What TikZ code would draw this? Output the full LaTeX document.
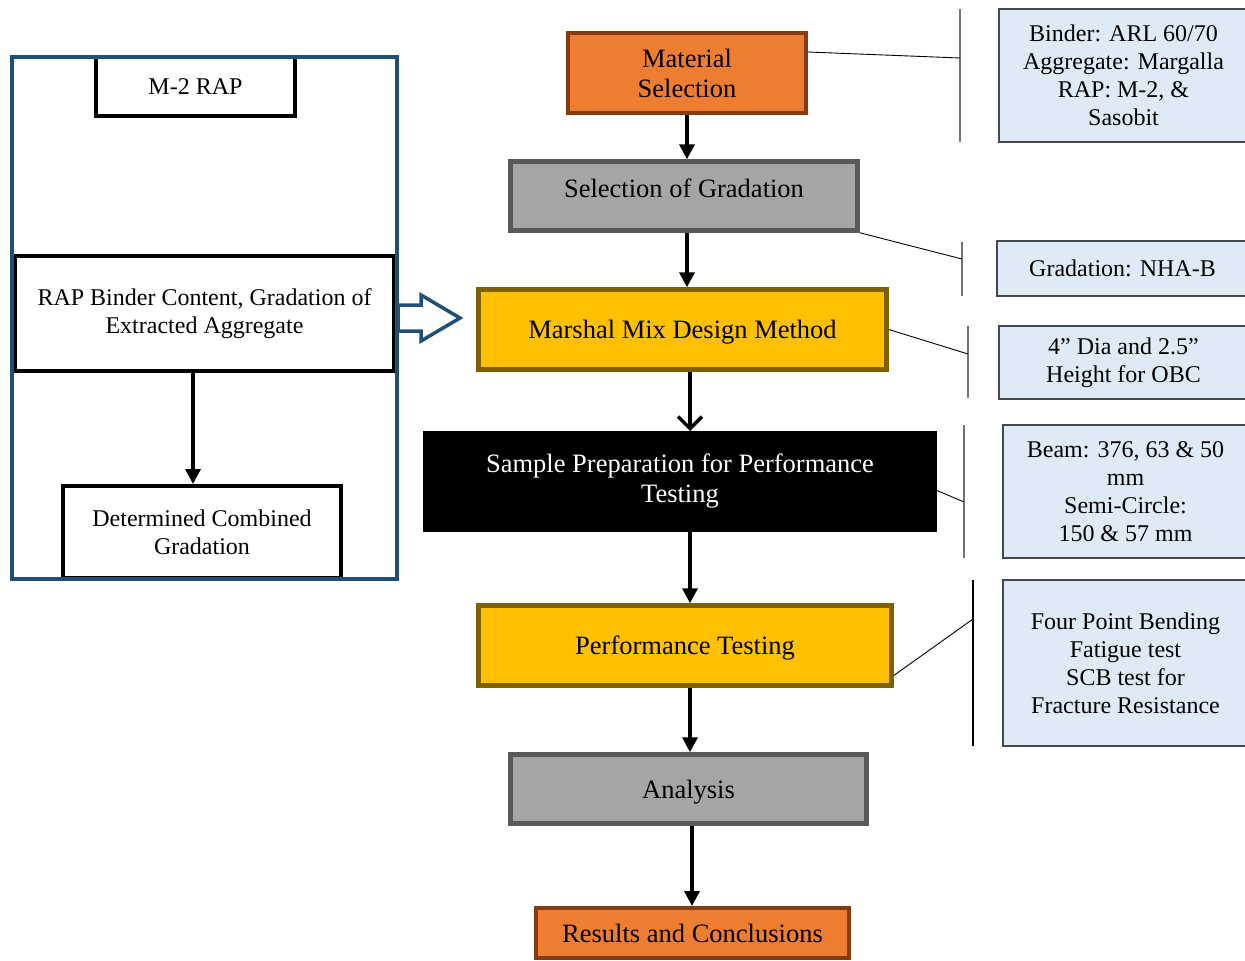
\documentclass[tikz,border=0pt]{standalone}
\usepackage{fontspec}
\setmainfont{Liberation Serif}
\usetikzlibrary{arrows.meta}
\definecolor{orangefill}{HTML}{ED7D31}
\definecolor{orangeline}{HTML}{843C0C}
\definecolor{grayfill}{HTML}{A5A5A5}
\definecolor{grayline}{HTML}{595959}
\definecolor{yellowfill}{HTML}{FFC000}
\definecolor{yellowline}{HTML}{7F6000}
\definecolor{infofill}{HTML}{DEEBF7}
\definecolor{infoline}{HTML}{44484C}
\definecolor{frameblue}{HTML}{1F4E79}
\tikzset{
	box/.style={rectangle, inner sep=0pt, align=center, line width=4pt, font=\fontsize{26.5}{30}\selectfont},
	orangebox/.style={box, fill=orangefill, draw=orangeline},
	graybox/.style={box, fill=grayfill, draw=grayline, line width=4.5pt},
	yellowbox/.style={box, fill=yellowfill, draw=yellowline, line width=4.5pt},
	blackbox/.style={box, fill=black, text=white, line width=0pt},
	oneline/.style={text depth=0pt},
	leftbox/.style={rectangle, inner sep=0pt, align=center, draw=black, line width=4pt, font=\fontsize{24}{28}\selectfont},
	infobox/.style={rectangle, inner sep=0pt, align=center, fill=infofill, draw=infoline, line width=1.3pt, font=\fontsize{24}{28}\selectfont},
	flow/.style={-{Triangle[length=15pt,width=15pt]}, line width=3.5pt},
	openflow/.style={-{Straight Barb[length=12pt,width=24pt]}, line width=3.5pt},
	blockarrow/.style={draw=frameblue, fill=white, line width=3.5pt, line join=miter},
	bracket/.style={draw=gray!90!black, line width=1.3pt},
	lead/.style={line width=0.9pt}
}

\begin{document}
\begin{tikzpicture}[x=1pt, y=-1pt]

	\useasboundingbox (0,0) rectangle (1245,961);

	% main flow
	\node[orangebox, minimum width=238pt, minimum height=80pt] (mat) at (687,73) {Material\\Selection};
	\node[graybox, minimum width=347pt, minimum height=69pt, text depth=16pt] (sel) at (684,196) {Selection of Gradation};
	\node[yellowbox, oneline, minimum width=408pt, minimum height=80pt] (mmd) at (682.5,329.5) {Marshal Mix Design Method};
	\node[blackbox, minimum width=514pt, minimum height=101pt] (smp) at (680,481.5) {Sample Preparation for Performance\\Testing};
	\node[yellowbox, oneline, minimum width=413pt, minimum height=80pt] (perf) at (685,645.5) {Performance Testing};
	\node[graybox, oneline, minimum width=356pt, minimum height=69pt] (ana) at (688.5,789) {Analysis};
	\node[orangebox, oneline, minimum width=313pt, minimum height=50pt] (res) at (692.5,933) {Results and Conclusions};

	\draw[flow] (mat.south) -- (mat.south |- sel.north);
	\draw[flow] (sel.south -| mat.south) -- (mmd.north -| mat.south);
	\draw[openflow] ([xshift=7.5pt]mmd.south) -- ([xshift=7.5pt]mmd.south |- smp.north);
	\draw[flow] ([xshift=10pt]smp.south) -- ([xshift=10pt]smp.south |- perf.north);
	\draw[flow] ([xshift=5pt]perf.south) -- ([xshift=5pt]perf.south |- ana.north);
	\draw[flow] ([xshift=3.5pt]ana.south) -- ([xshift=3.5pt]ana.south |- res.north);

	% RAP side
	\node[leftbox, oneline, minimum width=199pt, minimum height=59pt] (m2) at (195.5,86.5) {M-2 RAP};
	\node[leftbox, minimum width=379pt, minimum height=115pt] (rap) at (204.5,313.5) {RAP Binder Content, Gradation of\\Extracted Aggregate};
	\node[leftbox, minimum width=278pt, minimum height=92pt] (det) at (202,532) {Determined Combined\\Gradation};
	\draw[flow] ([xshift=-11.5pt]rap.south) -- ([xshift=-11.5pt]rap.south |- det.north);

	\node[draw=frameblue, line width=4pt, minimum width=385pt, minimum height=522pt] (frame) at (204,317.5) {};

	% feed into the mix design
	\coordinate (feed) at ([xshift=2pt, yshift=-4.5pt]rap.east);
	\draw[blockarrow] ([shift={(0,-13)}]feed) -- ++(23,0) -- ++(0,-10) -- ++(39,23) -- ++(-39,23) -- ++(0,-10) -- ++(-23,0) -- cycle;

	% inputs
	\node[infobox, minimum width=249pt, minimum height=133pt] (in1) at (1123.5,75.5) {Binder: ARL 60/70\\Aggregate: Margalla\\RAP: M-2, \&\\Sasobit};
	\node[infobox, minimum width=251pt, minimum height=55pt] (in2) at (1122.5,268.5) {Gradation: NHA-B};
	\node[infobox, minimum width=249pt, minimum height=73pt] (in3) at (1123.5,362.5) {4'' Dia and 2.5''\\Height for OBC};
	\node[infobox, minimum width=245pt, minimum height=133pt] (in4) at (1125.5,491.5) {Beam: 376, 63 \& 50\\mm\\Semi-Circle:\\150 \& 57 mm};
	\node[infobox, minimum width=245pt, minimum height=166pt] (in5) at (1125.5,663) {Four Point Bending\\Fatigue test\\SCB test for\\Fracture Resistance};

	\coordinate (b1t) at (960,9);
	\coordinate (b1m) at (960,58);
	\coordinate (b1b) at (960,142);
	\coordinate (b2t) at (962,242);
	\coordinate (b2m) at (962,259);
	\coordinate (b2b) at (962,296);
	\coordinate (b3t) at (968,326);
	\coordinate (b3m) at (968,354);
	\coordinate (b3b) at (968,398);
	\coordinate (b4t) at (964,425);
	\coordinate (b4m) at (964,502);
	\coordinate (b4b) at (964,558);
	\coordinate (b5t) at (973,580);
	\coordinate (b5m) at (973,619);
	\coordinate (b5b) at (973,746);

	\draw[bracket] (b1t) -- (b1b);
	\draw[bracket] (b2t) -- (b2b);
	\draw[bracket] (b3t) -- (b3b);
	\draw[bracket] (b4t) -- (b4b);
	\draw[bracket, draw=black] (b5t) -- (b5b);

	\draw[lead] ([yshift=21pt]mat.east) -- (b1m);
	\draw[lead] (sel.south east) -- (b2m);
	\draw[lead] (mmd.east) -- (b3m);
	\draw[lead] ([yshift=-9pt]smp.east) -- (b4m);
	\draw[lead] ([yshift=-30pt]perf.east) -- (b5m);

\end{tikzpicture}
\end{document}
